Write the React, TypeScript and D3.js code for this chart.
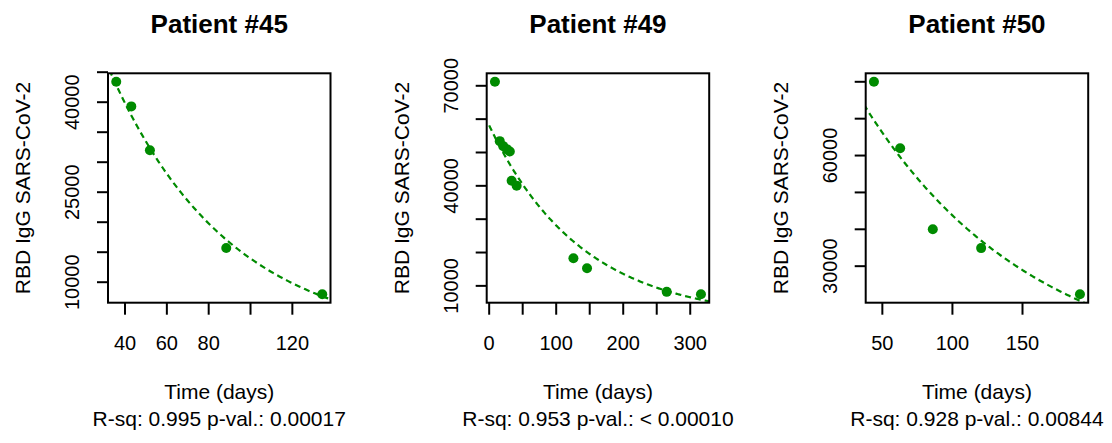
import React from "react";
import * as d3 from "d3";

// ---- data ----
const days45 = [35.8, 43.0, 51.9, 88.4, 134.3];
const igg45 = [43400, 39300, 32000, 15700, 8000];
const days49 = [8.6, 15.8, 21.0, 26.3, 30.8, 33.5, 41.0, 125.7, 146.0, 264.9, 316.0];
const igg49 = [71200, 53400, 51900, 51000, 50300, 41500, 40000, 18300, 15300, 8200, 7500];
const days50 = [44.0, 62.7, 86.0, 120.5, 191.0];
const igg50 = [80000, 62000, 40000, 34900, 22400];

const titles = ["Patient #45", "Patient #49", "Patient #50"];
const stats = [
  "R-sq: 0.995 p-val.: 0.00017",
  "R-sq: 0.953 p-val.: < 0.00010",
  "R-sq: 0.928 p-val.: 0.00844",
];

const xTicks45 = [40, 60, 80, 100, 120];
const xLabels45 = [40, 60, 80, 120];
const yTicks45 = [10000, 15000, 20000, 25000, 30000, 35000, 40000, 45000];
const yLabels45 = [10000, 25000, 40000];

const xTicks49 = [0, 50, 100, 150, 200, 250, 300];
const xLabels49 = [0, 100, 200, 300];
const yTicks49 = [10000, 20000, 30000, 40000, 50000, 60000, 70000];
const yLabels49 = [10000, 40000, 70000];

const xTicks50 = [50, 100, 150];
const xLabels50 = [50, 100, 150];
const yTicks50 = [30000, 40000, 50000, 60000, 70000, 80000];
const yLabels50 = [30000, 60000];

const panels = [
  { x: days45, y: igg45, xt: xTicks45, xl: xLabels45, yt: yTicks45, yl: yLabels45 },
  { x: days49, y: igg49, xt: xTicks49, xl: xLabels49, yt: yTicks49, yl: yLabels49 },
  { x: days50, y: igg50, xt: xTicks50, xl: xLabels50, yt: yTicks50, yl: yLabels50 },
];

const W = 1112;
const H = 443;
const boxLefts = [108, 486.7, 865.7];
const boxW = 222.5;
const boxTop = 73.3;
const boxBottom = 302.7;
const green = "#008B00";
const font = "'Liberation Sans', Arial, sans-serif";

// R style axis range: data range padded by 4%
function rRange(v: number[]): [number, number] {
  const [lo, hi] = d3.extent(v) as [number, number];
  const pad = (hi - lo) * 0.04;
  return [lo - pad, hi + pad];
}

// lm(log(y) ~ t)
function logFit(x: number[], y: number[]) {
  const ly = y.map(Math.log);
  const mx = d3.mean(x)!;
  const my = d3.mean(ly)!;
  const sxy = d3.sum(x, (d, i) => (d - mx) * (ly[i] - my));
  const sxx = d3.sum(x, (d) => (d - mx) * (d - mx));
  const b = sxy / sxx;
  const a = my - b * mx;
  return (t: number) => Math.exp(a + b * t);
}

function Panel({ i }: { i: number }) {
  const p = panels[i];
  const left = boxLefts[i];
  const right = left + boxW;
  const xs = d3.scaleLinear().domain(rRange(p.x)).range([left, right]);
  const ys = d3.scaleLinear().domain(rRange(p.y)).range([boxBottom, boxTop]);
  const fit = logFit(p.x, p.y);
  const grid = d3.range(0, xs.domain()[1] + 1, 1);
  const line = d3
    .line<number>()
    .x((t) => xs(t))
    .y((t) => ys(fit(t)));
  const cx = (left + right) / 2;
  const cy = (boxTop + boxBottom) / 2;
  const clipId = `clip${i}`;

  return (
    <g>
      <clipPath id={clipId}>
        <rect x={left} y={boxTop} width={boxW} height={boxBottom - boxTop} />
      </clipPath>
      <text x={cx} y={33} textAnchor="middle" fontSize={26} fontWeight="bold" fontFamily={font}>
        {titles[i]}
      </text>
      <g clipPath={`url(#${clipId})`}>
        <path d={line(grid) ?? ""} fill="none" stroke={green} strokeWidth={2.2} strokeDasharray="6 4" />
      </g>
      {p.x.map((d, k) => (
        <circle key={k} cx={xs(d)} cy={ys(p.y[k])} r={5} fill={green} />
      ))}
      <rect
        x={left}
        y={boxTop}
        width={boxW}
        height={boxBottom - boxTop}
        fill="none"
        stroke="#000"
        strokeWidth={2}
      />
      {p.xt.map((t) => (
        <line key={t} x1={xs(t)} x2={xs(t)} y1={boxBottom} y2={boxBottom + 12} stroke="#000" strokeWidth={2} />
      ))}
      {p.xl.map((t) => (
        <text key={t} x={xs(t)} y={350} textAnchor="middle" fontSize={20} fontFamily={font}>
          {t}
        </text>
      ))}
      {p.yt.map((t) => (
        <line key={t} x1={left - 11} x2={left} y1={ys(t)} y2={ys(t)} stroke="#000" strokeWidth={2} />
      ))}
      {p.yl.map((t) => (
        <text
          key={t}
          transform={`translate(${left - 36},${ys(t)}) rotate(-90)`}
          dy="0.35em"
          textAnchor="middle"
          fontSize={20}
          fontFamily={font}
        >
          {t}
        </text>
      ))}
      <text
        transform={`translate(${left - 85},${cy}) rotate(-90)`}
        dy="0.35em"
        textAnchor="middle"
        fontSize={21}
        fontFamily={font}
      >
        RBD IgG SARS-CoV-2
      </text>
      <text x={cx} y={399} textAnchor="middle" fontSize={21} fontFamily={font}>
        Time (days)
      </text>
      <text x={cx} y={426} textAnchor="middle" fontSize={21} fontFamily={font}>
        {stats[i]}
      </text>
    </g>
  );
}

export default function App() {
  return (
    <svg
      width={W}
      height={H}
      style={{ position: "absolute", left: 0, top: 0, background: "#fff" }}
    >
      {[0, 1, 2].map((i) => (
        <Panel key={i} i={i} />
      ))}
    </svg>
  );
}
